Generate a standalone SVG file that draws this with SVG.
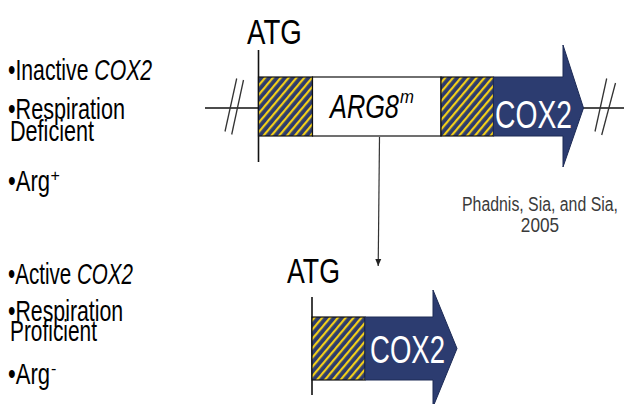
<svg xmlns="http://www.w3.org/2000/svg" width="624" height="404" viewBox="0 0 624 404">
<style>
.t{font-family:"Liberation Sans",Arial,sans-serif;fill:#000}
.lbl{font-size:29px}
.sup{font-size:16px}
.cite{font-size:21px;fill:#3a3a3a;text-anchor:middle}
.atg{font-size:35px}
.gene{font-size:38px;fill:#fff}
.arg{font-size:34px;font-style:italic}
.ln{stroke:#111;stroke-width:1.6;fill:none}
.sl{stroke:#333;stroke-width:1.3;fill:none}
.hat{fill:url(#hatch);stroke:#111;stroke-width:1.2}
.box{fill:#fff;stroke:#111;stroke-width:1.2}
.arr{fill:#2c3c70;stroke:#1c2a55;stroke-width:1}
</style>
<defs>
<pattern id="hatch" patternUnits="userSpaceOnUse" width="6" height="6" patternTransform="rotate(40)">
<rect width="6" height="6" fill="#2d3b6d"/>
<rect width="2.2" height="6" fill="#f2cf1a"/>
</pattern>
<marker id="ah" markerWidth="8" markerHeight="8" refX="7" refY="4" orient="auto" markerUnits="userSpaceOnUse">
<path d="M0,1 L7,4 L0,7 Z" fill="#222"/>
</marker>
</defs>

<g id="labels-top">
<text class="t lbl" transform="translate(8,80) scale(0.731,1)">•Inactive <tspan font-style="italic">COX2</tspan></text>
<text class="t lbl" transform="translate(8,119) scale(0.746,1)">•Respiration</text>
<text class="t lbl" transform="translate(10,141) scale(0.745,1)">Deficient</text>
<text class="t lbl" transform="translate(8,191) scale(0.76,1)">•Arg</text>
<text class="t sup" x="50.5" y="181">+</text>
</g>
<g id="labels-bottom">
<text class="t lbl" transform="translate(8,284) scale(0.71,1)">•Active <tspan font-style="italic">COX2</tspan></text>
<text class="t lbl" transform="translate(8,321) scale(0.735,1)">•Respiration</text>
<text class="t lbl" transform="translate(10,341) scale(0.72,1)">Proficient</text>
<text class="t lbl" transform="translate(8,384) scale(0.76,1)">•Arg</text>
<text class="t sup" x="51" y="374">-</text>
</g>
<g id="citation">
<text class="t cite" transform="translate(540,211) scale(0.755,1)">Phadnis, Sia, and Sia,</text>
<text class="t cite" transform="translate(540,232) scale(0.82,1)">2005</text>
</g>

<g id="connectors">
<line class="ln" x1="205" y1="108" x2="258" y2="108"/>
<line class="ln" x1="583" y1="108" x2="624" y2="108"/>
<line class="sl" x1="236.7" y1="78.5" x2="225" y2="131.5"/>
<line class="sl" x1="243.5" y1="80" x2="231.7" y2="134.5"/>
<line class="sl" x1="606.7" y1="78.5" x2="595" y2="131.5"/>
<line class="sl" x1="615.5" y1="83" x2="601.7" y2="135"/>
<line x1="379.5" y1="137" x2="378.2" y2="266" stroke="#333" stroke-width="1.2" marker-end="url(#ah)"/>
</g>

<g id="construct-top">
<line class="ln" x1="258.5" y1="50" x2="258.5" y2="162"/>
<text class="t atg" transform="translate(247,44) scale(0.79,1)">ATG</text>
<rect class="hat" x="258.5" y="77" width="54" height="59"/>
<rect class="box" x="312.5" y="77" width="128.5" height="59"/>
<text class="t arg" transform="translate(330,118) scale(0.745,1)">ARG8</text>
<text class="t" font-size="18" font-style="italic" transform="translate(400,103) scale(0.93,1)">m</text>
<rect class="hat" x="441" y="77" width="52.5" height="59"/>
<path class="arr" d="M493.5,77 H563 V45 L583.5,108 L563,167 V136 H493.5 Z"/>
<text class="t gene" transform="translate(495,128) scale(0.744,1)">COX2</text>
</g>

<g id="construct-bottom">
<line class="ln" x1="312" y1="297" x2="312" y2="395"/>
<text class="t atg" transform="translate(287,283) scale(0.764,1)">ATG</text>
<rect class="hat" x="312" y="317" width="53" height="63"/>
<path class="arr" d="M365,317 H433 V290 L457,348.5 L433,407 V380 H365 Z"/>
<text class="t gene" transform="translate(370,363) scale(0.725,1)">COX2</text>
</g>
</svg>
